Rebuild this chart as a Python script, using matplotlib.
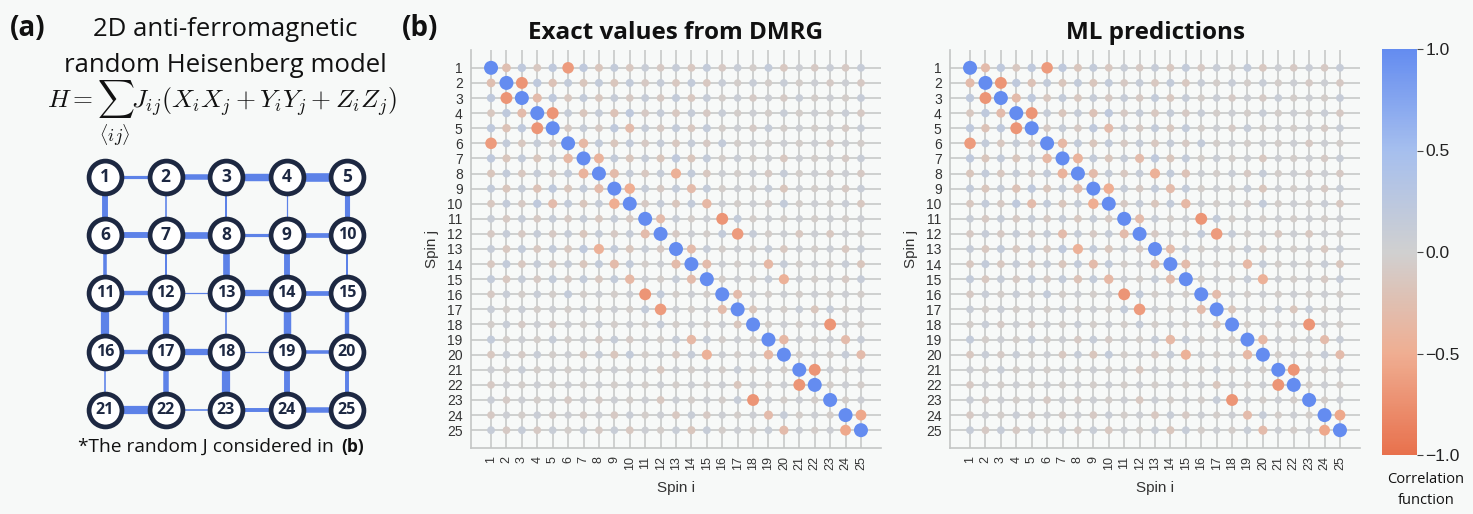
import numpy as np
import matplotlib
matplotlib.use("Agg")
import matplotlib.pyplot as plt
from matplotlib.colors import LinearSegmentedColormap, Normalize
from matplotlib.colorbar import ColorbarBase

plt.rcParams["mathtext.fontset"] = "cm"

# ---------------------------------------------------------------- data
SPINS = list(range(1, 26))

# Couplings J on the 5x5 lattice (relative strength, 0..1)
J_HORIZONTAL = [            # bond (r, c)-(r, c+1), one row per lattice row
    [0.30, 0.60, 0.85, 1.00],
    [0.65, 0.75, 0.30, 0.50],
    [0.45, 0.05, 0.70, 0.50],
    [0.45, 0.70, 0.05, 0.35],
    [0.95, 0.10, 0.40, 0.60],
]
J_VERTICAL = [              # bond (r, c)-(r+1, c), one row per lattice column
    [0.65, 0.35, 0.95, 0.10],
    [0.10, 0.15, 0.70, 0.60],
    [0.15, 0.75, 0.10, 0.95],
    [0.05, 0.65, 0.85, 0.65],
    [0.55, 0.15, 0.45, 0.40],
]

# Spin-spin correlations from DMRG, upper triangle (row i holds columns i..25)
DMRG_UPPER = [
    [1.0, -0.25, 0.2, -0.12, 0.2, -0.65, 0.2, -0.15, 0.15, -0.12, 0.1, -0.1, 0.12, -0.12, 0.15, -0.1, 0.1, -0.05, 0.15, -0.12, 0.05, -0.1, 0.08, -0.1, 0.12],
    [1.0, -0.7, 0.2, -0.2, 0.15, -0.15, 0.15, -0.15, 0.15, -0.1, 0.12, -0.12, 0.15, -0.12, 0.1, -0.05, 0.1, -0.05, 0.1, -0.05, 0.05, -0.08, 0.05, -0.1],
    [1.0, -0.3, 0.2, -0.12, 0.15, -0.12, 0.12, -0.1, 0.12, -0.1, 0.15, -0.12, 0.12, -0.05, 0.08, -0.08, 0.05, -0.08, 0.1, -0.05, 0.05, -0.05, 0.12],
    [1.0, -0.7, 0.12, -0.15, 0.12, -0.2, 0.2, -0.1, 0.12, -0.12, 0.12, -0.1, 0.1, -0.05, 0.05, -0.05, 0.1, -0.05, 0.05, -0.05, 0.08, -0.1],
    [1.0, -0.1, 0.12, -0.1, 0.2, -0.3, 0.12, -0.1, 0.15, -0.12, 0.15, -0.05, 0.05, -0.08, 0.12, -0.05, 0.05, -0.05, 0.05, -0.08, 0.1],
    [1.0, -0.35, 0.15, -0.15, 0.15, -0.1, 0.12, -0.12, 0.12, -0.1, 0.15, -0.05, 0.05, -0.05, 0.05, -0.05, 0.05, -0.1, 0.05, -0.05],
    [1.0, -0.42, 0.15, -0.15, 0.12, -0.15, 0.2, -0.15, 0.15, -0.05, 0.08, -0.05, 0.05, -0.12, 0.05, -0.05, 0.05, -0.08, 0.1],
    [1.0, -0.3, 0.12, -0.12, 0.12, -0.45, 0.15, -0.12, 0.05, -0.05, 0.08, -0.1, 0.12, -0.05, 0.05, -0.08, 0.05, -0.1],
    [1.0, -0.5, 0.12, -0.1, 0.15, -0.3, 0.15, -0.05, 0.05, -0.05, 0.12, -0.15, 0.05, -0.05, 0.05, -0.1, 0.1],
    [1.0, -0.1, 0.12, -0.15, 0.15, -0.35, 0.05, -0.05, 0.05, -0.08, 0.15, -0.05, 0.05, -0.05, 0.08, -0.12],
    [1.0, -0.3, 0.1, -0.05, 0.05, -0.7, 0.15, -0.05, 0.05, -0.05, 0.05, -0.05, 0.05, -0.05, 0.05],
    [1.0, -0.1, 0.05, -0.05, 0.15, -0.65, 0.12, -0.05, 0.05, -0.12, 0.05, -0.12, 0.05, -0.05],
    [1.0, -0.3, 0.12, -0.05, 0.05, -0.05, 0.12, -0.12, 0.05, -0.05, 0.06, -0.12, 0.1],
    [1.0, -0.3, 0.05, -0.05, 0.05, -0.35, 0.12, -0.05, 0.05, -0.05, 0.1, -0.15],
    [1.0, -0.05, 0.05, -0.05, 0.12, -0.45, 0.05, -0.05, 0.05, -0.1, 0.12],
    [1.0, -0.3, 0.05, -0.05, 0.05, -0.05, 0.05, -0.05, 0.05, -0.05],
    [1.0, -0.15, 0.05, -0.05, 0.1, -0.15, 0.12, -0.05, 0.05],
    [1.0, -0.05, 0.05, -0.05, 0.05, -0.7, 0.05, -0.05],
    [1.0, -0.35, 0.05, -0.05, 0.05, -0.3, 0.1],
    [1.0, -0.05, 0.05, -0.05, 0.12, -0.3],
    [1.0, -0.7, 0.05, -0.05, 0.05],
    [1.0, -0.05, 0.05, -0.05],
    [1.0, -0.05, 0.05],
    [1.0, -0.55],
    [1.0],
]

# Entries where the ML prediction departs from the DMRG value: (i, j): value
ML_DIFFERENCES = {
    (1, 2): -0.3,
    (7, 12): -0.3,
    (8, 15): -0.2,
}

CBAR_TICKS = [1.0, 0.5, 0.0, -0.5, -1.0]


def full_matrix(upper):
    n = len(upper)
    m = np.zeros((n, n))
    for i, row in enumerate(upper):
        m[i, i:] = row
        m[i:, i] = row
    return m


dmrg = full_matrix(DMRG_UPPER)
ml = dmrg.copy()
for (i, j), v in ML_DIFFERENCES.items():
    ml[i - 1, j - 1] = v
    ml[j - 1, i - 1] = v

# ---------------------------------------------------------------- style
BG = "#f7f9f8"
corr_cmap = LinearSegmentedColormap.from_list(
    "corr",
    [(0.0, "#e8714d"), (0.25, "#efae92"), (0.5, "#d0d0d0"),
     (0.75, "#a6bfee"), (1.0, "#648cf0")])
norm = Normalize(-1, 1)
TEXT_FONT = ["Open Sans", "DejaVu Sans"]
TICK_FONT = ["Liberation Sans", "DejaVu Sans"]

fig = plt.figure(figsize=(14.73, 5.14), dpi=100, facecolor=BG)
W, H = 1473, 514


def fx(px):
    return px / W


def fy(py):
    return 1 - py / H


# ---------------------------------------------------------------- panel (a)
fig.text(fx(10), fy(28), "(a)", fontsize=20, fontweight="bold",
         family=TEXT_FONT, va="center", ha="left", color="#111111")
fig.text(fx(225), fy(30), "2D anti-ferromagnetic", fontsize=18.5,
         family=TEXT_FONT, va="center", ha="center", color="#111111")
fig.text(fx(225), fy(66), "random Heisenberg model", fontsize=18.5,
         family=TEXT_FONT, va="center", ha="center", color="#111111")
fig.text(fx(222), fy(113),
         r"$H = \sum_{\langle ij\rangle} J_{ij}(X_iX_j + Y_iY_j + Z_iZ_j)$",
         fontsize=18.5, va="center", ha="center", color="#111111")

lat = fig.add_axes([fx(74.75), fy(438.9), fx(302.5), 291 / H])
lat.set_xlim(-0.5, 4.5)
lat.set_ylim(4.5, -0.5)
lat.axis("off")
BOND_COLOR = "#5d82e8"
for r, row in enumerate(J_HORIZONTAL):
    for c, j in enumerate(row):
        lat.plot([c, c + 1], [r, r], color=BOND_COLOR,
                 lw=0.6 + 5.6 * j, solid_capstyle="butt", zorder=1)
for c, col in enumerate(J_VERTICAL):
    for r, j in enumerate(col):
        lat.plot([c, c], [r, r + 1], color=BOND_COLOR,
                 lw=0.6 + 5.6 * j, solid_capstyle="butt", zorder=1)
gx, gy = np.meshgrid(range(5), range(5))
lat.scatter(gx.ravel(), gy.ravel(), s=560, facecolor="white",
            edgecolor="#1d2842", linewidth=3.4, zorder=2)
for k, (x, y) in enumerate(zip(gx.ravel(), gy.ravel())):
    lat.text(x, y, str(SPINS[k]), ha="center", va="center",
             fontsize=12.5 if SPINS[k] < 10 else 11.5, fontweight="bold",
             family=TEXT_FONT, color="#1d2842", zorder=3)

cap = fig.text(fx(78), fy(447), "*The random J considered in", fontsize=13.8,
               family=TEXT_FONT, va="center", ha="left", color="#111111")
renderer = fig.canvas.get_renderer()
cap_end = cap.get_window_extent(renderer).x1
fig.text((cap_end + 7) / W, fy(447), "(b)", fontsize=12.5, fontweight="bold",
         family=TEXT_FONT, va="center", ha="left", color="#111111")

# ---------------------------------------------------------------- panel (b)
fig.text(fx(402), fy(28), "(b)", fontsize=20, fontweight="bold",
         family=TEXT_FONT, va="center", ha="left", color="#111111")

ii, jj = np.meshgrid(SPINS, SPINS)


def corr_panel(left_px, data, title):
    ax = fig.add_axes([fx(left_px), fy(448), fx(410), 398 / H])
    ax.set_facecolor(BG)
    vals = data.ravel()
    diam_px = 7.0 + 7.0 * np.abs(vals)
    sizes = (diam_px * 0.72) ** 2
    ax.scatter(ii.ravel(), jj.ravel(), s=sizes, c=vals, cmap=corr_cmap,
               norm=norm, linewidths=0, zorder=3)
    ax.set_xlim(1 - 1.3, 25 + 1.3)
    ax.set_ylim(25 + 1.18, 1 - 1.18)
    ax.set_xticks(SPINS)
    ax.set_yticks(SPINS)
    ax.set_xticklabels([str(s) for s in SPINS], rotation=90,
                       family=TICK_FONT, fontsize=9, color="#333333")
    ax.set_yticklabels([str(s) for s in SPINS],
                       family=TICK_FONT, fontsize=10, color="#333333")
    ax.tick_params(length=0, pad=6)
    ax.grid(True, color="#cbcdcc", linewidth=1.3, zorder=0)
    ax.set_axisbelow(True)
    for side in ("top", "right"):
        ax.spines[side].set_visible(False)
    for side in ("left", "bottom"):
        ax.spines[side].set_color("#c4c6c5")
        ax.spines[side].set_linewidth(1.2)
    ax.set_xlabel("Spin i", family=TICK_FONT, fontsize=11,
                  color="#333333", labelpad=8)
    ax.set_ylabel("Spin j", family=TICK_FONT, fontsize=11,
                  color="#333333", labelpad=6)
    ax.set_title(title, fontsize=17.5, fontweight="bold", family=TEXT_FONT,
                 color="#111111", pad=8)
    return ax


corr_panel(471, dmrg, "Exact values from DMRG")
corr_panel(950, ml, "ML predictions")

cax = fig.add_axes([fx(1382), fy(455), fx(35), 406 / H])
cb = ColorbarBase(cax, cmap=corr_cmap, norm=norm, ticks=CBAR_TICKS)
cb.outline.set_visible(False)
cax.tick_params(length=4, width=0.8, color="#444444", labelsize=12.5,
                labelcolor="#222222", pad=2)
for t in cax.get_yticklabels():
    t.set_family(TICK_FONT)
fig.text(fx(1426), fy(490), "Correlation\nfunction", fontsize=10.5,
         family=TEXT_FONT, ha="center", va="center", color="#111111",
         linespacing=1.5)

fig.savefig("out.png", dpi=100, facecolor=BG)
